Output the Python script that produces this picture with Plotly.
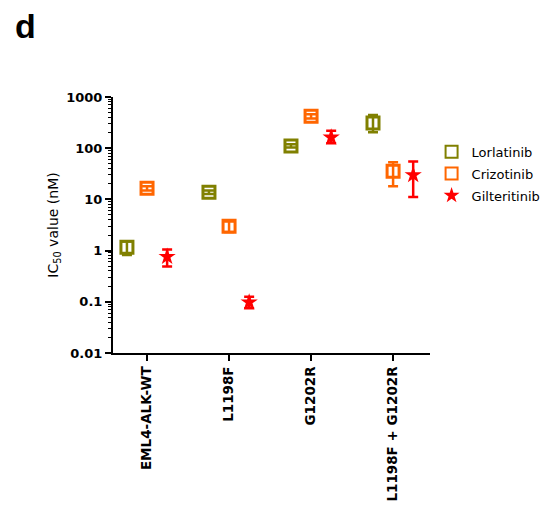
import plotly.graph_objects as go

categories = ["EML4-ALK-WT", "L1198F", "G1202R", "L1198F + G1202R"]
drugs = ["Lorlatinib", "Crizotinib", "Gilteritinib"]

lorlatinib = [1.16, 13.8, 111, 312]
lorlatinib_hi = [1.5, 15.0, 120, 446]
lorlatinib_lo = [0.82, 12.8, 103, 204]

crizotinib = [16.5, 3.0, 420, 35.4]
crizotinib_hi = [18.0, 3.7, 460, 53]
crizotinib_lo = [15.0, 2.3, 380, 18]

gilteritinib = [0.76, 0.098, 163, 30]
gilteritinib_hi = [1.05, 0.126, 220, 55]
gilteritinib_lo = [0.49, 0.075, 125, 11.2]

colors = ["#808000", "#FF6600", "#FF0000"]
symbols = ["square-open", "square-open", "star"]
offsets = [-0.245, 0.0, 0.245]

ytickvals = [0.01, 0.1, 1, 10, 100, 1000]
yticktext = ["0.01", "0.1", "1", "10", "100", "1000"]

series = [
    (lorlatinib, lorlatinib_hi, lorlatinib_lo),
    (crizotinib, crizotinib_hi, crizotinib_lo),
    (gilteritinib, gilteritinib_hi, gilteritinib_lo),
]

fig = go.Figure()
for name, (vals, hi, lo), col, sym, off in zip(drugs, series, colors, symbols, offsets):
    xs = [i + off for i in range(len(categories))]
    fig.add_trace(go.Scatter(
        x=xs, y=vals, mode="markers", name=name, legendgroup=name,
        marker=dict(symbol=sym, color=col, size=12 if sym != "star" else 13,
                    line=dict(color=col, width=3 if sym != "star" else 0)),
        error_y=dict(type="data", symmetric=False,
                     array=[h - v for h, v in zip(hi, vals)],
                     arrayminus=[v - l for v, l in zip(vals, lo)],
                     color=col, thickness=2.5, width=5),
    ))

minor_vals = []
for e in range(-2, 3):
    for m in range(2, 10):
        minor_vals.append(m * 10 ** e)

L, T, PW, PH = 105, 89, 317, 256
fig.update_layout(
    width=548, height=509,
    margin=dict(l=L, r=548 - L - PW, t=T, b=509 - T - PH, autoexpand=False),
    paper_bgcolor="white", plot_bgcolor="white",
    font=dict(family="DejaVu Sans, Liberation Sans, Arial, sans-serif", color="black"),
    showlegend=True,
    legend=dict(x=1.005, y=0.845, xanchor="left", yanchor="top",
                font=dict(size=13, color="black"), itemsizing="constant",
                tracegroupgap=2, bgcolor="rgba(0,0,0,0)"),
    xaxis=dict(range=[-0.415, 3.45], tickmode="array",
               tickvals=list(range(len(categories))), ticktext=categories,
               tickangle=-90, showline=True, linecolor="black", linewidth=2,
               ticks="outside", ticklen=6, tickwidth=2, tickcolor="black",
               showgrid=False, zeroline=False, automargin=False,
               tickfont=dict(size=13.5, family="DejaVu Sans, sans-serif", weight="bold")),
    yaxis=dict(type="log", range=[-2, 3], tickmode="array",
               tickvals=ytickvals, ticktext=yticktext,
               showline=True, linecolor="black", linewidth=2,
               ticks="outside", ticklen=6, tickwidth=2, tickcolor="black",
               minor=dict(tickvals=minor_vals, ticks="outside", ticklen=3,
                          tickwidth=1, tickcolor="black", showgrid=False),
               showgrid=False, zeroline=False, automargin=False,
               tickfont=dict(size=13, family="DejaVu Sans, sans-serif", weight="bold"),
               title=dict(text="IC<sub>50</sub> value (nM)", font=dict(size=14), standoff=4)),
)

fig.add_annotation(text="<b>d</b>", xref="paper", yref="paper",
                   x=-L / PW, y=1 + T / PH, xshift=5, yshift=3,
                   xanchor="left", yanchor="top", showarrow=False,
                   font=dict(size=34, color="black", family="Liberation Sans, Arial, sans-serif"))

fig.write_html("out.html")
